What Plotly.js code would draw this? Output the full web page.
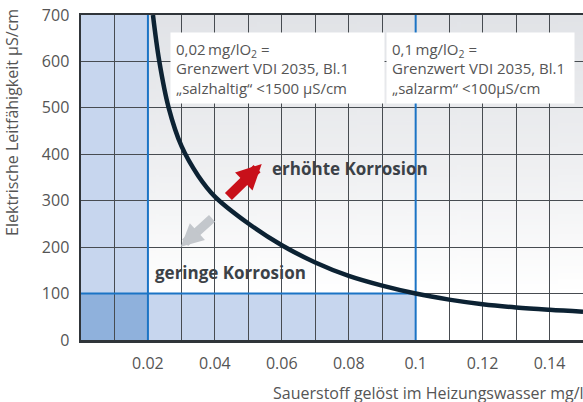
<!DOCTYPE html>
<html>
<head>
<meta charset="utf-8">
<script src="https://cdn.plot.ly/plotly-3.0.1.min.js"></script>
<style>
html,body{margin:0;padding:0;background:#fff;}
#chart{width:583px;height:402px;}
</style>
</head>
<body>
<div id="chart"></div>
<script>
// ---- data ----
const oxygen = [0.0215, 0.0234, 0.0262, 0.030, 0.035, 0.040, 0.05, 0.06, 0.07, 0.08, 0.09, 0.10, 0.11, 0.12, 0.13, 0.14, 0.15];
const conductivity = [700, 600, 500, 418, 354, 309, 251, 204, 167, 138, 117, 100, 87, 77, 70, 65, 61];
const xTickVals = [0.01, 0.02, 0.03, 0.04, 0.05, 0.06, 0.07, 0.08, 0.09, 0.10, 0.11, 0.12, 0.13, 0.14, 0.15];
const xTickText = ['', '0.02', '', '0.04', '', '0.06', '', '0.08', '', '0.1', '', '0.12', '', '0.14', ''];
const yTickVals = [0, 100, 200, 300, 400, 500, 600, 700];
const o2LimitSalty = 0.02;   // salzhaltig
const o2LimitLowSalt = 0.1;  // salzarm
const condLimit = 100;
const xMax = 0.15, yMax = 700;
const boxSalty = '0,02\u2009mg/lO<sub>2</sub> =<br>Grenzwert VDI 2035, Bl.1<br>\u201Esalzhaltig\u201C <1500 \u00B5S/cm';
const boxLowSalt = '0,1\u2009mg/lO<sub>2</sub> =<br>Grenzwert VDI 2035, Bl.1<br>\u201Esalzarm\u201C <100\u00B5S/cm';
const labelHigh = 'erhöhte Korrosion';
const labelLow = 'geringe Korrosion';
const yTitle = 'Elektrische Leitfähigkeit \u00B5S/cm';
const xTitle = 'Sauerstoff gelöst im Heizungswasser mg/l';
// arrows: [tailX, tailY, tipX, tipY]
const arrowHigh = [0.0436, 306, 0.0540, 379];
const arrowLow = [0.0396, 265, 0.0298, 201];

// gradient background for plot area
const cv = document.createElement('canvas');
cv.width = 10; cv.height = 200;
const cx = cv.getContext('2d');
const g = cx.createLinearGradient(0, 0, 0, 200);
g.addColorStop(0, '#e1e3e7');
g.addColorStop(0.45, '#eeeff1');
g.addColorStop(0.85, '#ffffff');
g.addColorStop(1, '#ffffff');
cx.fillStyle = g; cx.fillRect(0, 0, 10, 200);
const bgURL = cv.toDataURL('image/png');

const FONT = '"Open Sans", sans-serif';
const LIGHT = '#c7d6ee', DARK = '#8fb1dc', BLUE = '#1b74c5';

const traces = [{
  x: oxygen, y: conductivity, type: 'scatter', mode: 'lines',
  line: {color: '#0c2233', width: 4.5, shape: 'spline', smoothing: 1},
  hoverinfo: 'skip', showlegend: false
}];

const shapes = [
  {type: 'rect', xref: 'x', yref: 'y', x0: 0, x1: o2LimitSalty, y0: 0, y1: yMax, fillcolor: LIGHT, line: {width: 0}, layer: 'below'},
  {type: 'rect', xref: 'x', yref: 'y', x0: o2LimitSalty, x1: o2LimitLowSalt, y0: 0, y1: condLimit, fillcolor: LIGHT, line: {width: 0}, layer: 'below'},
  {type: 'rect', xref: 'x', yref: 'y', x0: 0, x1: o2LimitSalty, y0: 0, y1: condLimit, fillcolor: DARK, line: {width: 0}, layer: 'below'},
  {type: 'line', xref: 'x', yref: 'y', x0: o2LimitSalty, x1: o2LimitSalty, y0: 0, y1: yMax, line: {color: BLUE, width: 2}, layer: 'between'},
  {type: 'line', xref: 'x', yref: 'y', x0: o2LimitLowSalt, x1: o2LimitLowSalt, y0: 0, y1: yMax, line: {color: BLUE, width: 2}, layer: 'between'},
  {type: 'line', xref: 'x', yref: 'y', x0: 0, x1: o2LimitLowSalt, y0: condLimit, y1: condLimit, line: {color: BLUE, width: 2}, layer: 'between'}
];

const annotations = [
  {xref: 'x', yref: 'y', x: 0.02657, y: 664, xanchor: 'left', yanchor: 'top', text: boxSalty, showarrow: false,
   align: 'left', bgcolor: '#ffffff', borderpad: 5, width: 203, height: 60,
   font: {family: FONT, size: 15, color: '#555'}},
  {xref: 'x', yref: 'y', x: 0.0910, y: 664, xanchor: 'left', yanchor: 'top', text: boxLowSalt, showarrow: false,
   align: 'left', bgcolor: '#ffffff', borderpad: 5, width: 177, height: 60,
   font: {family: FONT, size: 15, color: '#555'}},
  {xref: 'x', yref: 'y', x: arrowHigh[2], y: arrowHigh[3], axref: 'x', ayref: 'y', ax: arrowHigh[0], ay: arrowHigh[1],
   text: '', showarrow: true, arrowhead: 2, arrowsize: 0.5, arrowwidth: 10, arrowcolor: '#c8101a'},
  {xref: 'x', yref: 'y', x: arrowLow[2], y: arrowLow[3], axref: 'x', ayref: 'y', ax: arrowLow[0], ay: arrowLow[1],
   text: '', showarrow: true, arrowhead: 2, arrowsize: 0.5, arrowwidth: 9, arrowcolor: '#c3c7cc'},
  {xref: 'x', yref: 'y', x: 0.0564, y: 370, xanchor: 'left', yanchor: 'middle', text: '<b>' + labelHigh + '</b>', showarrow: false,
   font: {family: FONT, size: 17, color: '#3b4147'}},
  {xref: 'x', yref: 'y', x: 0.0215, y: 145, xanchor: 'left', yanchor: 'middle', text: '<b>' + labelLow + '</b>', showarrow: false,
   font: {family: FONT, size: 17, color: '#3b4147'}},
  {xref: 'paper', yref: 'paper', x: -0.1375, y: 0.671, xanchor: 'center', yanchor: 'middle', textangle: -90, text: yTitle, showarrow: false,
   font: {family: FONT, size: 16, color: '#555'}},
  {xref: 'paper', yref: 'paper', x: 0.3785, y: -0.163, xanchor: 'left', yanchor: 'middle', text: xTitle, showarrow: false,
   font: {family: FONT, size: 16, color: '#555'}}
];

const layout = {
  width: 583, height: 402,
  margin: {l: 81, r: 0, t: 15, b: 62, pad: 0},
  paper_bgcolor: '#ffffff',
  plot_bgcolor: 'rgba(0,0,0,0)',
  font: {family: FONT, size: 16, color: '#555'},
  showlegend: false,
  images: [{source: bgURL, xref: 'paper', yref: 'paper', x: 0, y: 1, sizex: 1, sizey: 1,
            sizing: 'stretch', xanchor: 'left', yanchor: 'top', layer: 'below'}],
  xaxis: {
    range: [0, xMax], tickmode: 'array', tickvals: xTickVals, ticktext: xTickText,
    showgrid: true, gridcolor: '#474c51', gridwidth: 1, zeroline: false,
    showline: true, linecolor: '#30353a', linewidth: 2.5, mirror: true,
    ticks: '', ticklabelstandoff: 7, tickfont: {family: FONT, size: 16, color: '#555'},
    fixedrange: true
  },
  yaxis: {
    range: [0, yMax], tickmode: 'array', tickvals: yTickVals,
    showgrid: true, gridcolor: '#474c51', gridwidth: 1, zeroline: false,
    showline: true, linecolor: '#30353a', linewidth: 2.5,
    ticks: '', ticklabelstandoff: 6, tickfont: {family: FONT, size: 16, color: '#555'},
    fixedrange: true
  },
  shapes: shapes,
  annotations: annotations
};

Plotly.newPlot('chart', traces, layout, {staticPlot: true, displayModeBar: false});
</script>
</body>
</html>
